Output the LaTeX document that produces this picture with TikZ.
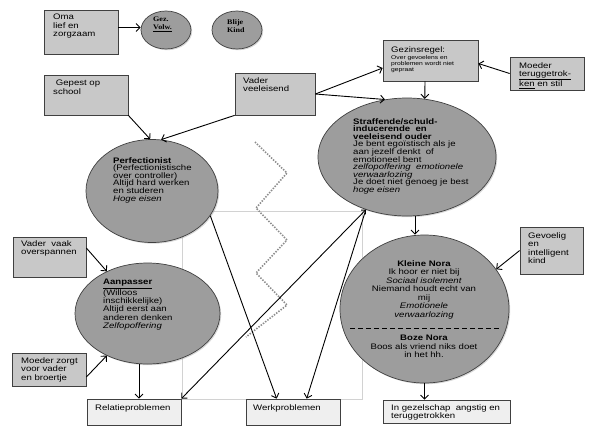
\documentclass[tikz,border=0pt]{standalone}
\usepackage{fontspec}
\setmainfont{Liberation Sans}[FakeStretch=1.2]
\newfontfamily\timesfont{Liberation Serif}[FakeStretch=1.15]
\usepackage{xcolor}
\usepackage{tikz}
\usetikzlibrary{arrows.meta,shapes.geometric,shadows}
\definecolor{boxfill}{HTML}{C8C8C8}
\definecolor{endfill}{HTML}{EFEFEF}
\definecolor{ovalfill}{HTML}{9D9D9D}
\definecolor{edge}{HTML}{404040}
\definecolor{zig}{HTML}{8C8C8C}
\definecolor{frameln}{HTML}{D2D2D2}
\tikzset{
  shade/.style={drop shadow={shadow xshift=1.2pt, shadow yshift=-1.2pt, opacity=0.3}},
  box/.style={draw=edge, fill=boxfill, line width=0.7pt, inner sep=0pt, shade},
  endbox/.style={box, fill=endfill},
  oval/.style={ellipse, draw=edge, fill=ovalfill, line width=0.7pt, inner sep=0pt, shade},
  txt/.style={anchor=north west, align=left, inner sep=0pt, font=\fontsize{8}{8.5}\selectfont},
  ovaltxt/.style={txt, font=\fontsize{8}{7.6}\selectfont},
  small/.style={txt, font=\fontsize{5.6}{6.2}\selectfont},
  arr/.style={draw=black, line width=0.9pt, -{Straight Barb[length=4pt,width=8pt]}},
  arrs/.style={arr, {Straight Barb[length=3pt,width=6pt]}-{Straight Barb[length=4pt,width=8pt]}},
  zigzag/.style={draw=zig, line width=1.6pt, dash pattern=on 1.4pt off 1.4pt},
  frame/.style={draw=frameln, line width=0.5pt},
  split/.style={draw=black, line width=1pt, dash pattern=on 5pt off 3pt},
}

\begin{document}
\begin{tikzpicture}[x=1pt,y=-1pt]
  \fill[white, use as bounding box] (0,0) rectangle (607,437);
  \draw[frame] (182,211) rectangle (362,399);
  \draw[zigzag] (255,142) -- (287,173) -- (256,208) -- (287,240) -- (256,273) -- (287,305) -- (246,337);

  \foreach \n/\x/\y/\w/\h in {oma/81/32/74/44, gepest/86/95/84/40, vader/275/94/80/42,
    gezin/430.5/60.5/95/41, moeder/547/73.5/74/33, vaak/49.5/257/73/40,
    zorgt/49/369.5/74/33, gevoel/551.5/250.5/63/47}
    \node[box, minimum width=\w pt, minimum height=\h pt] (\n) at (\x,\y) {};
  \foreach \n/\x/\y/\w/\h in {relatie/134/412/94/26, werk/293/412/94/26, gezel/446.5/411.5/127/23}
    \node[endbox, minimum width=\w pt, minimum height=\h pt] (\n) at (\x,\y) {};
  \foreach \n/\x/\y/\w/\h in {gez/166/30/50/38, blij/237/30/50/38, perf/152/191/132/103,
    straf/407/157/178/118, aanp/147.5/313.5/145/101, nora/424.5/309/169/148}
    \node[oval, minimum width=\w pt, minimum height=\h pt] (\n) at (\x,\y) {};

  \node[txt] (omaT) at (53,14) {Oma\\lief en\\zorgzaam};
  \node[txt] (gepestT) at (53,80) {\ Gepest op\\school};
  \node[txt] (vaderT) at (243,77) {Vader\\veeleisend};
  \node[txt] (gezinT) at (391,46.5) {Gezinsregel:};
  \node[small] (gezinS) at (391,55) {Over gevoelens en\\problemen wordt niet\\gepraat};
  \node[txt] (moederT) at (519,62) {Moeder\\\underline{teruggetrok-}\\\underline{ken} en stil};
  \node[txt] (vaakT) at (21,240) {Vader\ \ vaak\\overspannen};
  \node[txt] (zorgtT) at (21,357) {Moeder zorgt\\voor vader\\en broertje};
  \node[txt] (gevoelT) at (528,232) {Gevoelig\\en\\intelligent\\kind};
  \node[txt] (relatieT) at (95,404) {Relatieproblemen};
  \node[txt] (werkT) at (253,404) {Werkproblemen};
  \node[txt] (gezelT) at (391,404) {In gezelschap\ \ angstig en\\teruggetrokken};
  \node[txt, font=\timesfont\bfseries\fontsize{7}{8}\selectfont] (gezT) at (153,17) {Gez.\\\underline{Volw.}};
  \node[txt, font=\timesfont\bfseries\fontsize{7}{8}\selectfont] (blijT) at (227,19) {Blije\\Kind};
  \node[ovaltxt] (perfT) at (113,157) {\textbf{Perfectionist}\\(Perfectionistische\\over controller)\\Altijd hard werken\\en studeren\\\textit{Hoge eisen}};
  \node[ovaltxt] (strafT) at (353,118) {\textbf{Straffende/schuld-}\\\textbf{inducerende\ \ en}\\\textbf{veeleisend ouder}\\Je bent egoïstisch als je\\aan jezelf denkt\ \ of\\emotioneel bent\\\textit{zelfopoffering\ \ emotionele}\\\textit{verwaarlozing}\\Je doet niet genoeg je best\\\textit{hoge eisen}};
  \node[txt, font=\fontsize{8}{8.4}\selectfont] (aanpT) at (103,279) {\textbf{\underline{Aanpasser}}\\(Willoos\\inschikkelijke)\\Altijd eerst aan\\anderen denken\\\textit{Zelfopoffering}};
  \node[txt, anchor=north, align=center] (noraT) at (424,260) {\textbf{Kleine Nora}\\Ik hoor er niet bij\\\textit{Sociaal isolement}\\Niemand houdt echt van\\mij\\\textit{Emotionele}\\\textit{verwaarlozing}};
  \node[txt, anchor=north, align=center] (bozeT) at (424,335) {\textbf{Boze Nora}\\Boos als vriend niks doet\\in het hh.};
  \draw[split] (350,328) -- (500,328);

  \coordinate (relIn) at ([xshift=5pt]relatie.north);
  \draw[arr] ([yshift=4.5pt]oma.east) -- ([yshift=4.5pt]oma.east -| gez.west);
  \draw[arr] (gepest.south east) -- (perf.92);
  \draw[arr] (vader.south west) -- (perf.80);
  \draw[arr] (vader.east) -- ([yshift=-7.5pt]gezin.west);
  \draw[arr] (vader.east) -- (straf.111);
  \draw[arr] ([xshift=-5.5pt]gezin.south) -- (straf.73);
  \draw[arr] (moeder.west) -- ([yshift=-3pt]gezin.east);
  \draw[arr] ([yshift=9pt]vaak.east) -- (aanp.134);
  \draw[arr] ([yshift=-7.5pt]zorgt.east) -- (aanp.226);
  \draw[arr] (relIn |- aanp.south) -- (relIn);
  \draw[arr] (perf.-23) -- ([xshift=31pt]werk.north west);
  \draw[arrs] (straf.232) -- (relatie.north east);
  \draw[arr] (straf.232) -- ([xshift=61pt]werk.north west);
  \draw[arr] ([xshift=8pt]straf.south) -- ([xshift=-9.5pt]nora.north);
  \draw[arr] (gevoel.west) -- (nora.29);
  \draw[arr] (nora.south) -- (nora.south |- gezel.north);
\end{tikzpicture}
\end{document}
